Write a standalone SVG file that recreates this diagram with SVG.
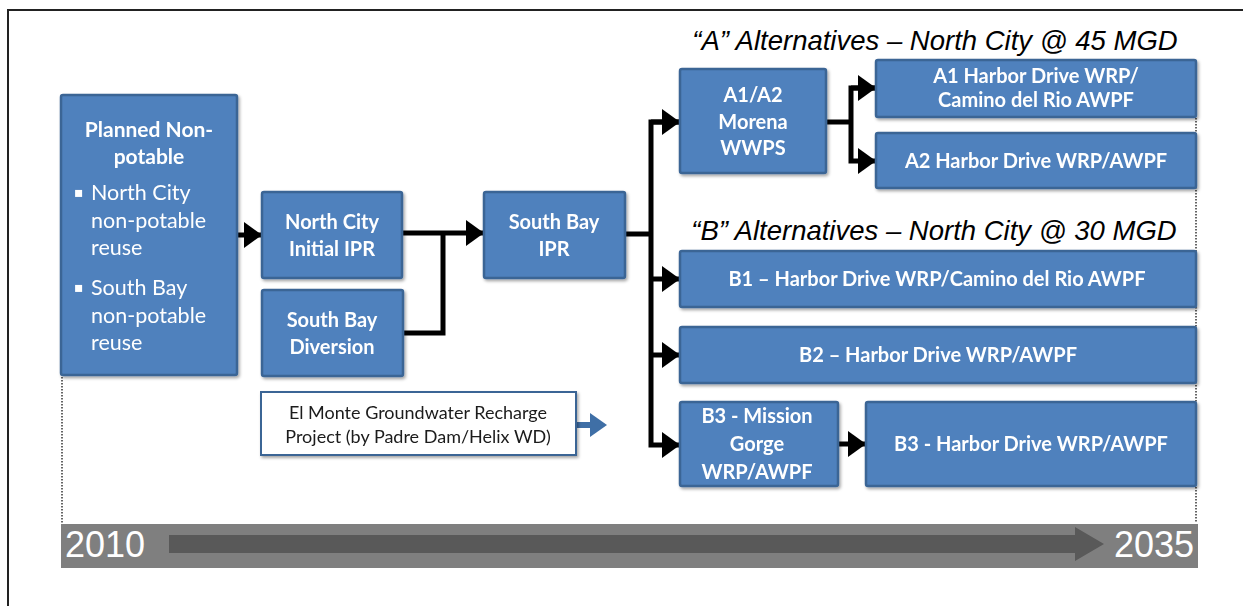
<svg xmlns="http://www.w3.org/2000/svg" width="1243" height="606" viewBox="0 0 1243 606">
<defs>
<style>
.box{fill:#4f81bd;stroke:#3b6595;stroke-width:2.5}
.t{font-family:Lato,"Open Sans",sans-serif;font-weight:bold;font-size:20px;fill:#ffffff;text-anchor:middle}
.b{font-family:Lato,"Open Sans",sans-serif;font-size:21.5px;fill:#ffffff}
.bul{font-family:"DejaVu Sans",sans-serif;font-size:14px;fill:#ffffff}
.ttl{font-family:"Liberation Sans",Arial,sans-serif;font-style:italic;font-size:27.5px;fill:#000;text-anchor:middle}
.ln{fill:none;stroke:#000;stroke-width:5}
.dot{fill:none;stroke:#333;stroke-width:1.5;stroke-dasharray:1.5 1.5}
</style>
<filter id="sh" x="-10%" y="-10%" width="130%" height="130%">
<feDropShadow dx="1.5" dy="2" stdDeviation="1.5" flood-color="#000" flood-opacity="0.35"/>
</filter>
<marker id="ah" markerUnits="userSpaceOnUse" markerWidth="18" markerHeight="26" refX="18" refY="13" orient="auto">
<path d="M0,0 L18,13 L0,26 Z" fill="#000"/>
</marker>
</defs>
<rect x="0" y="0" width="1243" height="606" fill="#fff"/>
<path d="M8,606 L8,10 L1243,10" fill="none" stroke="#222" stroke-width="2"/>

<g id="dotted">
<line class="dot" x1="62" y1="377" x2="62" y2="523"/>
<line class="dot" x1="1196" y1="118" x2="1196" y2="523"/>
</g>

<g id="titles">
<text class="ttl" x="935" y="50">“A” Alternatives – North City @ 45 MGD</text>
<text class="ttl" x="934" y="240">“B” Alternatives – North City @ 30 MGD</text>
</g>

<g id="connectors">
<line class="ln" x1="237" y1="235" x2="262" y2="235" marker-end="url(#ah)"/>
<path class="ln" d="M402,233 L484,233" marker-end="url(#ah)"/>
<path class="ln" d="M403,333 L443,333 L443,233"/>
<path class="ln" d="M625,234 L651,234"/>
<path class="ln" d="M680,122 L651,122 L651,445 L680,445" marker-end="url(#ah)"/>
<path class="ln" d="M651,122 L680,122" marker-end="url(#ah)"/>
<path class="ln" d="M651,279 L680,279" marker-end="url(#ah)"/>
<path class="ln" d="M651,355 L680,355" marker-end="url(#ah)"/>
<path class="ln" d="M826,122 L851,122"/>
<path class="ln" d="M876,88 L851,88 L851,161 L876,161" marker-end="url(#ah)"/>
<path class="ln" d="M851,88 L876,88" marker-end="url(#ah)"/>
<path class="ln" d="M838,444 L866,444" marker-end="url(#ah)"/>
<path d="M576,425 L592,425" stroke="#3f6fa6" stroke-width="6" fill="none"/>
<path d="M590,413 L607,425 L590,437 Z" fill="#3f6fa6"/>
</g>

<g id="planned" filter="url(#sh)">
<rect class="box" x="61" y="95" width="176" height="280" rx="2"/>
<text class="t" x="149" y="137" style="font-size:21px">Planned Non-</text>
<text class="t" x="149" y="164" style="font-size:21px">potable</text>
<text class="bul" x="74" y="197">▪</text>
<text class="b" x="91" y="200">North City</text>
<text class="b" x="91" y="228">non-potable</text>
<text class="b" x="91" y="255">reuse</text>
<text class="bul" x="74" y="292">▪</text>
<text class="b" x="91" y="295">South Bay</text>
<text class="b" x="91" y="323">non-potable</text>
<text class="b" x="91" y="350">reuse</text>
</g>

<g id="north-city-initial-ipr" filter="url(#sh)">
<rect class="box" x="262" y="192" width="140" height="86" rx="2"/>
<text class="t" x="332" y="229">North City</text>
<text class="t" x="332" y="256">Initial IPR</text>
</g>

<g id="south-bay-diversion" filter="url(#sh)">
<rect class="box" x="262" y="290" width="141" height="86" rx="2"/>
<text class="t" x="332" y="327">South Bay</text>
<text class="t" x="332" y="354">Diversion</text>
</g>

<g id="south-bay-ipr" filter="url(#sh)">
<rect class="box" x="484" y="192" width="141" height="86" rx="2"/>
<text class="t" x="554" y="229">South Bay</text>
<text class="t" x="554" y="256">IPR</text>
</g>

<g id="el-monte" filter="url(#sh)">
<rect x="261" y="392" width="315" height="63" fill="#fff" stroke="#3b6595" stroke-width="2"/>
<text x="418" y="419" style="font-family:Lato,'Open Sans',sans-serif;font-size:18px;fill:#1a1a1a;text-anchor:middle">El Monte Groundwater Recharge</text>
<text x="418" y="443" style="font-family:Lato,'Open Sans',sans-serif;font-size:18px;fill:#1a1a1a;text-anchor:middle">Project (by Padre Dam/Helix WD)</text>
</g>

<g id="a1a2-morena" filter="url(#sh)">
<rect class="box" x="680" y="69" width="146" height="104" rx="2"/>
<text class="t" x="753" y="102">A1/A2</text>
<text class="t" x="753" y="129">Morena</text>
<text class="t" x="753" y="155">WWPS</text>
</g>

<g id="a1" filter="url(#sh)">
<rect class="box" x="876" y="60" width="320" height="57" rx="2"/>
<text class="t" x="1036" y="83">A1 Harbor Drive WRP/</text>
<text class="t" x="1036" y="107">Camino del Rio  AWPF</text>
</g>

<g id="a2" filter="url(#sh)">
<rect class="box" x="876" y="133" width="320" height="55" rx="2"/>
<text class="t" x="1036" y="168">A2 Harbor Drive WRP/AWPF</text>
</g>

<g id="b1" filter="url(#sh)">
<rect class="box" x="680" y="251" width="516" height="56" rx="2"/>
<text class="t" x="937" y="286">B1 – Harbor Drive WRP/Camino del Rio  AWPF</text>
</g>

<g id="b2" filter="url(#sh)">
<rect class="box" x="680" y="327" width="516" height="56" rx="2"/>
<text class="t" x="938" y="362">B2 – Harbor Drive WRP/AWPF</text>
</g>

<g id="b3-mission" filter="url(#sh)">
<rect class="box" x="680" y="402" width="158" height="84" rx="2"/>
<text class="t" x="757" y="423">B3 - Mission</text>
<text class="t" x="757" y="451">Gorge</text>
<text class="t" x="757" y="479">WRP/AWPF</text>
</g>

<g id="b3-harbor" filter="url(#sh)">
<rect class="box" x="866" y="402" width="330" height="84" rx="2"/>
<text class="t" x="1031" y="451">B3 - Harbor Drive WRP/AWPF</text>
</g>

<g id="timeline">
<rect x="61" y="524" width="1137" height="44" fill="#7f7f7f"/>
<path d="M169,535 L1075,535 L1075,527 L1104,544 L1075,561 L1075,553 L169,553 Z" fill="#595959"/>
<text x="65" y="557" style="font-family:'Liberation Sans',Arial,sans-serif;font-size:36px;fill:#fff">2010</text>
<text x="1194" y="557" style="font-family:'Liberation Sans',Arial,sans-serif;font-size:36px;fill:#fff;text-anchor:end">2035</text>
</g>
</svg>
